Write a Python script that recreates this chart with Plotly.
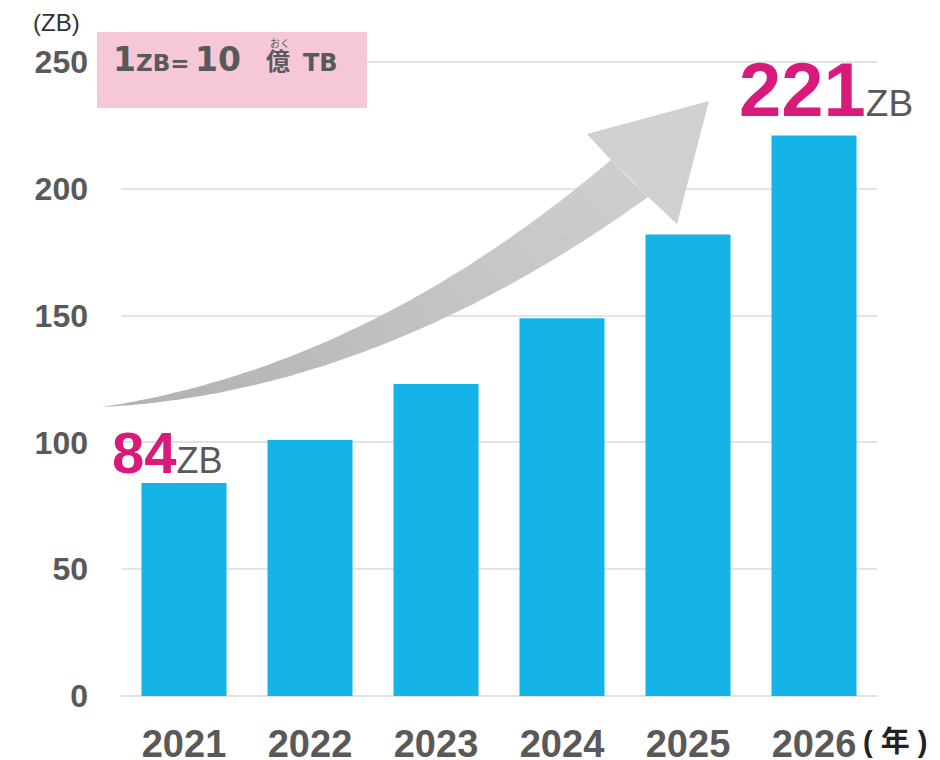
import plotly.graph_objects as go

# ---- data ----
years = ["2021", "2022", "2023", "2024", "2025", "2026"]
volume_zb = [84, 101, 123, 149, 182, 221]
y_ticks = [0, 50, 100, 150, 200, 250]

# ---- layout geometry (figure pixels; page body adds an 8px offset) ----
W, H = 940, 760
OFF = 8
ML, MR, MT, MB = 113, 71, 49, 72
PW = W - ML - MR
PH = H - MT - MB


def pp(x, y):
    """screen pixel -> paper coords"""
    fx, fy = x - OFF, y - OFF
    return (fx - ML) / PW, (H - MB - fy) / PH


FONT = "Liberation Sans, Arial, Noto Sans CJK JP"
BOXFONT = "DejaVu Sans"
CJK = "Noto Sans CJK JP"
GRAY = "#595959"
MAGENTA = "#d81b7b"

fig = go.Figure()
fig.add_trace(go.Bar(x=years, y=volume_zb, marker=dict(color="#14b4e8", line=dict(width=0)),
                     hoverinfo="x+y"))

shapes = []


# ---- curved gradient arrow (decoration) ----
def bez(p0, p1, p2, t):
    return ((1 - t) ** 2 * p0[0] + 2 * (1 - t) * t * p1[0] + t * t * p2[0],
            (1 - t) ** 2 * p0[1] + 2 * (1 - t) * t * p1[1] + t * t * p2[1])


N = 60
upper = [bez((102, 407), (367, 367), (611, 160), i / N) for i in range(N + 1)]
lower = [bez((102, 407), (375, 393), (648, 197), i / N) for i in range(N + 1)]
c0 = (176, 176, 176)
c1 = (206, 207, 205)
nb = 15
step = N // nb
for k in range(nb):
    a = k * step
    b = min(N, (k + 1) * step + 1)
    pts = upper[a:b + 1] + lower[a:b + 1][::-1]
    f = (k + 0.5) / nb
    col = "rgb(%d,%d,%d)" % tuple(round(c0[j] + (c1[j] - c0[j]) * f) for j in range(3))
    path = "M " + " L ".join("%.5f,%.5f" % pp(*p) for p in pts) + " Z"
    shapes.append(dict(type="path", path=path, xref="paper", yref="paper",
                       fillcolor=col, line=dict(width=0), layer="above"))
head = [(611, 160), (587, 134), (709, 101), (677, 224), (648, 197), (630, 178)]
path = "M " + " L ".join("%.5f,%.5f" % pp(*p) for p in head) + " Z"
shapes.append(dict(type="path", path=path, xref="paper", yref="paper",
                   fillcolor="rgb(208,209,207)", line=dict(width=0), layer="above"))

# ---- pink box ----
x0, y0 = pp(97, 32)
x1, y1 = pp(367, 108)
shapes.append(dict(type="rect", xref="paper", yref="paper", x0=x0, y0=y1, x1=x1, y1=y0,
                   fillcolor="#f5c7d7", line=dict(width=0), layer="above"))

annotations = []


def ann(text, x, y, size, color, xanchor="left", yanchor="middle", family=FONT):
    px_, py_ = pp(x, y)
    annotations.append(dict(text=text, x=px_, y=py_, xref="paper", yref="paper",
                            xanchor=xanchor, yanchor=yanchor, showarrow=False,
                            font=dict(family=family, size=size, color=color)))


ann("(ZB)", 31, 22, 24, "#333333")

# box text "1ZB=10億TB" (pieces placed on a common baseline)
BASE = 71
ann("<b>1</b>", 124, BASE - 0.346 * 33, 33, GRAY, xanchor="center", family=BOXFONT)
ann("<b>ZB=</b>", 162, BASE - 0.346 * 23, 23, GRAY, xanchor="center", family=BOXFONT)
ann("<b>10</b>", 218, BASE - 0.346 * 33, 33, GRAY, xanchor="center", family=BOXFONT)
ann("<b>億</b>", 278, BASE - 1.5 - 0.436 * 24, 24, GRAY, xanchor="center", family=CJK)
ann("<b>TB</b>", 320, BASE - 0.346 * 24, 24, GRAY, xanchor="center", family=BOXFONT)
ann("おく", 280, 42, 10, GRAY, xanchor="center", family=CJK)

ann("<b>%d</b><span style=\"font-size:37px;color:%s\">ZB</span>" % (volume_zb[-1], GRAY),
    737, 90, 76, MAGENTA)
ann("<b>%d</b><span style=\"font-size:36px;color:%s\">ZB</span>" % (volume_zb[0], GRAY),
    110, 452, 58, MAGENTA)
ann("<b>( 年 )</b>", 861, 742, 29, "#222222", xanchor="left")

fig.update_layout(
    width=W, height=H,
    margin=dict(l=ML, r=MR, t=MT, b=MB, pad=0, autoexpand=False),
    paper_bgcolor="white", plot_bgcolor="white",
    showlegend=False,
    bargap=0.325,
    shapes=shapes,
    annotations=annotations,
    font=dict(family=FONT),
    xaxis=dict(type="category", showgrid=False, showline=False, zeroline=False,
               ticks="", tickfont=dict(family=FONT, size=38, color=GRAY),
               tickprefix="<b>", ticksuffix="</b>", ticklabelstandoff=22,
               automargin=False, fixedrange=True),
    yaxis=dict(range=[0, 252], tickvals=y_ticks, ticktext=["<b>%d</b>" % v for v in y_ticks],
               showgrid=True, gridcolor="#e3e3e3", gridwidth=2,
               zeroline=True, zerolinecolor="#e0e0e0", zerolinewidth=2,
               showline=False, ticks="",
               tickfont=dict(family=FONT, size=32, color=GRAY), ticklabelstandoff=32,
               automargin=False, fixedrange=True),
)

fig.write_html("out.html")
